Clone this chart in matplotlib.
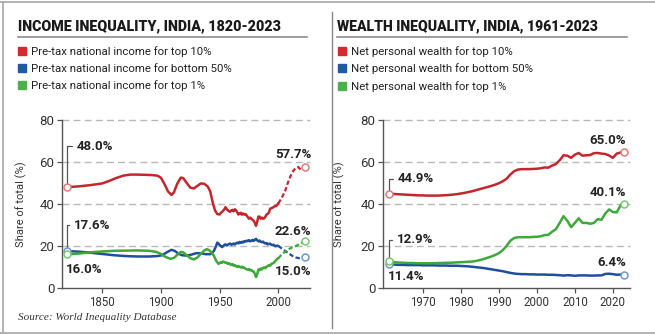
import numpy as np
import matplotlib
matplotlib.use('Agg')
from matplotlib import pyplot as plt
from matplotlib.lines import Line2D

plt.rcParams['font.family'] = ['Roboto', 'DejaVu Sans']

# ---------------- data ----------------
inc_top10_years = [1820, 1830, 1840, 1850, 1856, 1862, 1868, 1874, 1880, 1886,
                   1892, 1897, 1900, 1903, 1906, 1909, 1911, 1914, 1917, 1919,
                   1922, 1925, 1928, 1931, 1934, 1937, 1940, 1942, 1944, 1946,
                   1948] + list(range(1950, 2001)) + \
                  [2003, 2006, 2009, 2011, 2013, 2015, 2017, 2019, 2020, 2022, 2023]
inc_top10 = [48.0, 48.4, 49.0, 49.8, 51.0, 52.4, 53.5, 54.0, 54.0, 53.9,
             53.8, 53.5, 52.5, 49.5, 46.0, 44.3, 45.5, 49.8, 52.6, 52.3,
             50.0, 47.8, 47.4, 48.6, 49.8, 49.6, 48.2, 46.0, 41.0, 37.0,
             35.2,
             35.0, 35.8, 36.2, 36.8, 37.5, 38.5, 37.6, 37.0, 36.5, 36.3,
             37.0, 37.2, 36.5, 37.5, 37.0, 36.0, 35.0, 35.5, 35.8, 34.9,
             35.5, 35.0, 35.2, 34.5, 33.8, 33.0, 33.5, 33.0, 32.5, 32.0,
             31.0, 29.6, 31.5, 34.0, 34.0, 33.0, 33.5, 33.0, 33.2, 34.0,
             35.0, 35.3, 36.0, 37.7, 38.0, 38.2, 38.6, 38.9, 39.0, 39.5,
             40.3,
             43.0, 46.5, 51.5, 54.0, 56.0, 57.2, 57.6, 56.4, 56.0, 57.0, 57.7]

inc_bot50_years = [1820, 1830, 1840, 1850, 1860, 1870, 1880, 1890, 1897, 1901,
                   1905, 1909, 1912, 1915, 1918, 1922, 1926, 1930, 1934, 1938,
                   1942, 1945, 1947] + list(range(1948, 2001)) + \
                  [2003, 2006, 2009, 2012, 2015, 2018, 2020, 2022, 2023]
inc_bot50 = [17.6, 17.3, 16.8, 16.2, 15.6, 15.2, 15.0, 15.0, 15.2, 15.6,
             17.0, 18.2, 17.6, 16.3, 15.6, 15.4, 15.9, 16.6, 16.5, 16.1,
             16.1, 17.5, 20.0,
             21.6, 21.2,
             20.5, 20.0, 19.5, 19.9, 20.5, 20.8, 20.2, 20.6, 21.0, 21.1,
             20.6, 20.8, 21.2, 20.7, 21.3, 21.6, 21.2, 21.9, 21.5, 22.0,
             21.7, 22.3, 22.1, 22.5, 22.3, 22.8, 22.2, 22.5, 22.9, 22.4,
             23.0, 23.4, 22.7, 22.2, 22.6, 22.0, 21.8, 22.1, 21.5, 21.2,
             21.4, 20.8, 21.0, 21.1, 20.6, 20.4, 20.6, 20.0, 19.9, 20.2,
             20.0,
             18.8, 17.6, 16.4, 15.3, 14.5, 14.2, 14.4, 14.8, 15.0]

inc_top1_years = [1820, 1830, 1840, 1850, 1860, 1870, 1880, 1890, 1896, 1900,
                  1904, 1908, 1911, 1914, 1917, 1919, 1922, 1925, 1928, 1931,
                  1934, 1937, 1939, 1941, 1943, 1945, 1947] + list(range(1949, 2001)) + \
                 [2003, 2006, 2009, 2012, 2015, 2017, 2019, 2021, 2023]
inc_top1 = [16.0, 16.4, 17.0, 17.4, 17.7, 17.8, 17.9, 17.7, 17.2, 16.2,
            14.8, 13.9, 14.3, 15.8, 17.2, 17.0, 15.6, 14.2, 13.6, 14.5,
            16.3, 17.9, 18.5, 18.0, 17.0, 15.5, 13.0,
            11.5,
            11.8, 12.3, 12.0, 12.6, 12.3, 12.0, 12.1, 11.5, 11.8, 11.2,
            11.0, 11.4, 10.6, 10.9, 10.4, 10.0, 10.5, 10.1, 9.8, 10.2,
            9.5, 9.7, 9.2, 8.9, 8.7, 9.0, 8.4, 8.6, 8.0, 7.8,
            6.8, 5.2, 6.5, 8.8, 8.5, 9.3, 8.8, 9.6, 9.8, 9.4,
            10.2, 10.4, 10.9, 10.6, 11.4, 11.7, 11.9, 12.6, 13.2, 13.8,
            14.2,
            16.0, 17.4, 18.5, 19.4, 20.0, 20.6, 21.0, 21.8, 22.6]

wealth_years = list(range(1961, 2024))
wealth_top10 = [44.9, 44.8, 44.7, 44.6, 44.5, 44.4, 44.3, 44.2, 44.1, 44.1,
                44.0, 44.0, 44.0, 44.0, 44.1, 44.2, 44.3, 44.5, 44.7, 45.0,
                45.3, 45.7, 46.1, 46.6, 47.1, 47.6, 48.1, 48.6, 49.2, 49.9,
                50.8, 52.0, 54.0, 55.6, 56.4, 56.6, 56.6, 56.6, 56.7, 56.8,
                57.0, 57.4, 57.3, 58.3, 59.0, 60.8, 63.2, 63.0, 62.0, 63.5,
                64.3, 63.0, 63.2, 63.3, 64.2, 64.3, 64.0, 63.8, 63.1, 62.0,
                64.0, 64.5, 65.0]
wealth_bot50 = [11.4, 11.2, 11.1, 11.0, 11.0, 10.9, 10.9, 10.9, 10.9, 10.8,
                10.8, 10.8, 10.8, 10.7, 10.7, 10.7, 10.6, 10.6, 10.6, 10.5,
                10.4, 10.3, 10.1, 9.9, 9.7, 9.5, 9.2, 8.9, 8.6, 8.3,
                8.0, 7.6, 7.2, 6.9, 6.7, 6.6, 6.6, 6.5, 6.5, 6.4,
                6.4, 6.4, 6.3, 6.3, 6.2, 6.1, 5.9, 6.1, 6.0, 5.8,
                6.0, 6.0, 6.0, 5.9, 5.9, 6.0, 6.0, 6.7, 6.8, 6.6,
                6.3, 6.4, 6.4]
wealth_top1 = [12.9, 12.5, 12.2, 12.1, 12.0, 11.9, 11.9, 11.8, 11.8, 11.8,
               11.8, 11.8, 11.8, 11.9, 11.9, 12.0, 12.0, 12.1, 12.2, 12.3,
               12.4, 12.5, 12.6, 12.9, 13.3, 13.8, 14.4, 15.0, 15.7, 16.6,
               18.0, 20.0, 22.5, 23.8, 24.2, 24.2, 24.2, 24.2, 24.3, 24.4,
               24.6, 25.2, 25.3, 26.8, 28.0, 31.0, 34.2, 32.0, 29.0, 31.0,
               33.2, 31.0, 31.0, 30.6, 31.0, 32.8, 32.5, 35.5, 37.4, 36.2,
               36.0, 39.3, 40.1]

inc_labels = ['Pre-tax national income for top 10%',
              'Pre-tax national income for bottom 50%',
              'Pre-tax national income for top 1%']
wealth_labels = ['Net personal wealth for top 10%',
                 'Net personal wealth for bottom 50%',
                 'Net personal wealth for top 1%']

RED, BLUE, GREEN = '#c4262e', '#1f4f9a', '#3ea83a'
RED_M, BLUE_M, GREEN_M = '#e07a7a', '#6f97cf', '#78c774'
LEG_COLS = ['#d12b2b', '#1f5aa6', '#4cb14a']

W, H = 655, 334
fig = plt.figure(figsize=(W / 100, H / 100), dpi=100)


def px(x, y):
    return x / W, 1 - y / H


def series(ax, years, vals, color, mcolor, split=None):
    years = np.array(years)
    vals = np.array(vals)
    if split is None:
        ax.plot(years, vals, color=color, lw=1.8, solid_capstyle='round', zorder=3)
    else:
        a = years <= split
        b = years >= split
        ax.plot(years[a], vals[a], color=color, lw=1.8, solid_capstyle='round', zorder=3)
        ax.plot(years[b], vals[b], color=color, lw=1.6, ls=(0, (2.0, 1.1)), zorder=3)
    ax.plot([years[0], years[-1]], [vals[0], vals[-1]], 'o', ms=5, mfc='white',
            mec=mcolor, mew=1.1, zorder=4, clip_on=False)


def style_axes(ax, xlim, xticks):
    ax.set_xlim(*xlim)
    ax.set_ylim(0, 80)
    ax.set_yticks([0, 20, 40, 60, 80])
    ax.set_xticks(xticks)
    for s in ['top', 'right']:
        ax.spines[s].set_visible(False)
    for s in ['left', 'bottom']:
        ax.spines[s].set_color('#555555')
        ax.spines[s].set_linewidth(1.0)
    ax.tick_params(axis='both', length=3.5, width=0.9, color='#555555',
                   labelcolor='#333333', pad=2)
    ax.tick_params(axis='y', labelsize=9.5)
    ax.tick_params(axis='x', labelsize=8.3)
    for v in [20, 40, 60, 80]:
        ax.axhline(v, color='#b8b8b8', lw=1.0, ls=(0, (5, 3)), zorder=1, clip_on=False)
    ax.set_ylabel('Share of total (%)', fontsize=8, color='#333333')
    ax.patch.set_alpha(0)


def end_label(ax, x, y, txt, dx, dy, ha='left', bracket=False):
    if bracket:
        ax.annotate(txt, xy=(x, y), xytext=(dx, dy), textcoords='offset pixels',
                    ha='left', va='center', fontsize=9.5, fontweight='bold', color='#222222',
                    arrowprops=dict(arrowstyle='-', color='#555555', lw=0.9,
                                    connectionstyle='angle,angleA=0,angleB=90,rad=0',
                                    shrinkA=1.5, shrinkB=3, relpos=(0, 0.5)),
                    annotation_clip=False)
    else:
        ax.annotate(txt, xy=(x, y), xytext=(dx, dy), textcoords='offset pixels',
                    ha=ha, va='center', fontsize=9.5, fontweight='bold', color='#222222',
                    annotation_clip=False)


# ---------------- income panel ----------------
ax1 = fig.add_axes([62 / W, 1 - 288 / H, 248 / W, 168 / H])
style_axes(ax1, (1815.7, 2027), [1850, 1900, 1950, 2000])
ax1.yaxis.set_label_coords(-0.141, 0.5)
series(ax1, inc_top10_years, inc_top10, RED, RED_M, split=2000)
series(ax1, inc_bot50_years, inc_bot50, BLUE, BLUE_M, split=2000)
series(ax1, inc_top1_years, inc_top1, GREEN, GREEN_M, split=2000)

end_label(ax1, inc_top10_years[0], inc_top10[0], '%.1f%%' % inc_top10[0], 10, 41, bracket=True)
end_label(ax1, inc_bot50_years[0], inc_bot50[0], '%.1f%%' % inc_bot50[0], 7, 26, bracket=True)
end_label(ax1, inc_top1_years[0], inc_top1[0], '%.1f%%' % inc_top1[0], -1, -15)
end_label(ax1, inc_top10_years[-1], inc_top10[-1], '%.1f%%' % inc_top10[-1], 6, 12, ha='right')
end_label(ax1, inc_top1_years[-1], inc_top1[-1], '%.1f%%' % inc_top1[-1], 6, 9, ha='right')
end_label(ax1, inc_bot50_years[-1], inc_bot50[-1], '%.1f%%' % inc_bot50[-1], 6, -15, ha='right')

# ---------------- wealth panel ----------------
ax2 = fig.add_axes([383 / W, 1 - 288 / H, 247 / W, 168 / H])
style_axes(ax2, (1959.5, 2024.5), [1970, 1980, 1990, 2000, 2010, 2020])
ax2.yaxis.set_label_coords(-0.154, 0.5)
series(ax2, wealth_years, wealth_top10, RED, RED_M)
series(ax2, wealth_years, wealth_bot50, BLUE, BLUE_M)
series(ax2, wealth_years, wealth_top1, GREEN, GREEN_M)

end_label(ax2, wealth_years[0], wealth_top10[0], '%.1f%%' % wealth_top10[0], 9, 15, bracket=True)
end_label(ax2, wealth_years[0], wealth_top1[0], '%.1f%%' % wealth_top1[0], 8, 21, bracket=True)
end_label(ax2, wealth_years[0], wealth_bot50[0], '%.1f%%' % wealth_bot50[0], -1, -12)
end_label(ax2, wealth_years[-1], wealth_top10[-1], '%.1f%%' % wealth_top10[-1], 2, 11, ha='right')
end_label(ax2, wealth_years[-1], wealth_top1[-1], '%.1f%%' % wealth_top1[-1], 2, 11, ha='right')
end_label(ax2, wealth_years[-1], wealth_bot50[-1], '%.1f%%' % wealth_bot50[-1], 2, 12, ha='right')

# ---------------- titles, legends, frame ----------------
# the original uses a heavy condensed face; take a narrow heavy one and fit its width
renderer = fig.canvas.get_renderer()
for x0, txt, target in [(18, 'INCOME INEQUALITY, INDIA, 1820-2023', 264),
                        (337, 'WEALTH INEQUALITY, INDIA, 1961-2023', 262)]:
    t = fig.text(*px(x0, 30), txt, family=['Roboto', 'DejaVu Sans'],
                 fontweight='black', fontsize=14, color='#1a1a1a', va='baseline')
    w = t.get_window_extent(renderer).width
    t.set_fontsize(14 * target / w)
fig.add_artist(Line2D([18 / W, 307 / W], [1 - 37 / H] * 2, color='#8c8c8c', lw=1.2))
fig.add_artist(Line2D([337 / W, 627 / W], [1 - 37 / H] * 2, color='#8c8c8c', lw=1.2))

for x0, labels in [(18, inc_labels), (338, wealth_labels)]:
    handles = [Line2D([], [], marker='s', ls='none', ms=5.5, color=c) for c in LEG_COLS]
    fig.legend(handles, labels, loc='upper left', bbox_to_anchor=px(x0, 46),
               frameon=False, fontsize=8.2, labelcolor='#222222', handlelength=0.7,
               handletextpad=0.45, labelspacing=0.58, borderpad=0, borderaxespad=0)

fig.text(*px(18, 317), 'Source: World Inequality Database', family=['Liberation Serif', 'DejaVu Serif'],
         style='italic', fontsize=8, color='#333333', va='center')

frame = '#a6a6a6'
fig.add_artist(Line2D([0, 1], [1 - 1.5 / H] * 2, color=frame, lw=1.2))
fig.add_artist(Line2D([0, 1], [1 - 332.5 / H] * 2, color=frame, lw=1.2))
fig.add_artist(Line2D([2.5 / W] * 2, [1 - 1.5 / H, 1 - 332.5 / H], color=frame, lw=1.2))
fig.add_artist(Line2D([331.5 / W] * 2, [1 - 12 / H, 1 - 328 / H], color='#888888', lw=1.0))

fig.savefig('out.png', dpi=100)
